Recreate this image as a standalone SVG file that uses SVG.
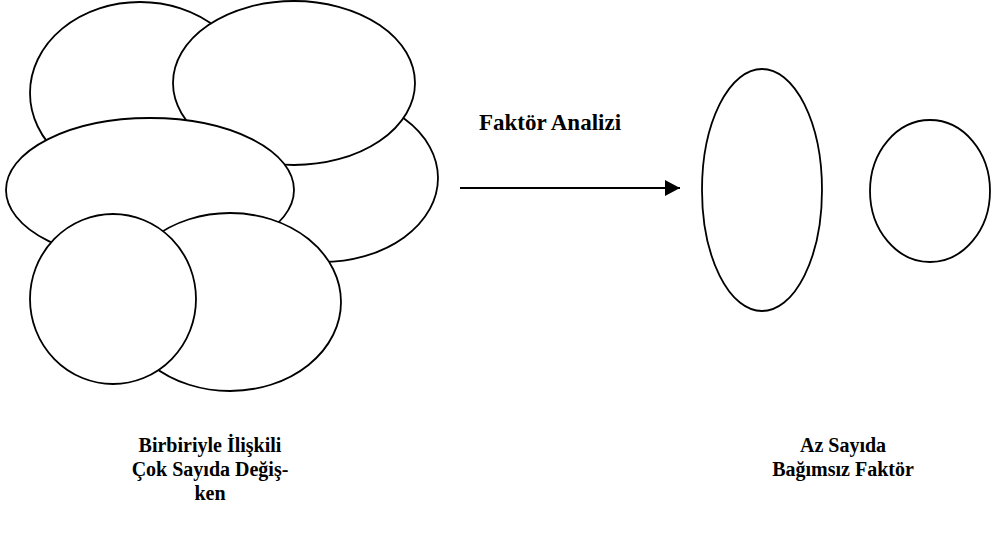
<svg xmlns="http://www.w3.org/2000/svg" width="994" height="534" viewBox="0 0 994 534">
<defs>
<style>
.s{fill:#fff;stroke:#000;stroke-width:1.8}
text{font-weight:bold;fill:#000;text-anchor:middle}
</style>
<marker id="ah" markerWidth="15" markerHeight="16" refX="15" refY="8" orient="auto" markerUnits="userSpaceOnUse">
<path d="M0,0 L15,8 L0,16 Z" fill="#000"/>
</marker>
</defs>
<rect width="994" height="534" fill="#fff"/>
<g id="many-variables">
<ellipse id="v1" class="s" cx="140" cy="93" rx="110" ry="91"/>
<ellipse id="v3" class="s" cx="322" cy="178" rx="116" ry="84"/>
<ellipse id="v2" class="s" cx="294" cy="83" rx="121" ry="82"/>
<ellipse id="v4" class="s" cx="150" cy="190" rx="144" ry="72"/>
<ellipse id="v5" class="s" cx="230" cy="302" rx="111" ry="89"/>
<ellipse id="v6" class="s" cx="113" cy="299" rx="83" ry="85"/>
</g>
<g id="factor1"><ellipse class="s" cx="762" cy="190" rx="60" ry="121"/></g>
<g id="factor2"><ellipse class="s" cx="930" cy="191" rx="60" ry="71"/></g>
<g id="connectors">
<line x1="460" y1="188" x2="680" y2="188" stroke="#000" stroke-width="2" marker-end="url(#ah)"/>
</g>
<g id="labels" font-family="'Liberation Serif', 'Times New Roman', serif">
<text x="550" y="130" font-size="23">Faktör Analizi</text>
<text x="210" y="452" font-size="20">Birbiriyle İlişkili</text>
<text x="210" y="476" font-size="20">Çok Sayıda Değiş-</text>
<text x="210" y="500" font-size="20">ken</text>
<text x="843" y="452" font-size="20">Az Sayıda</text>
<text x="843" y="476" font-size="20">Bağımsız Faktör</text>
</g>
</svg>
